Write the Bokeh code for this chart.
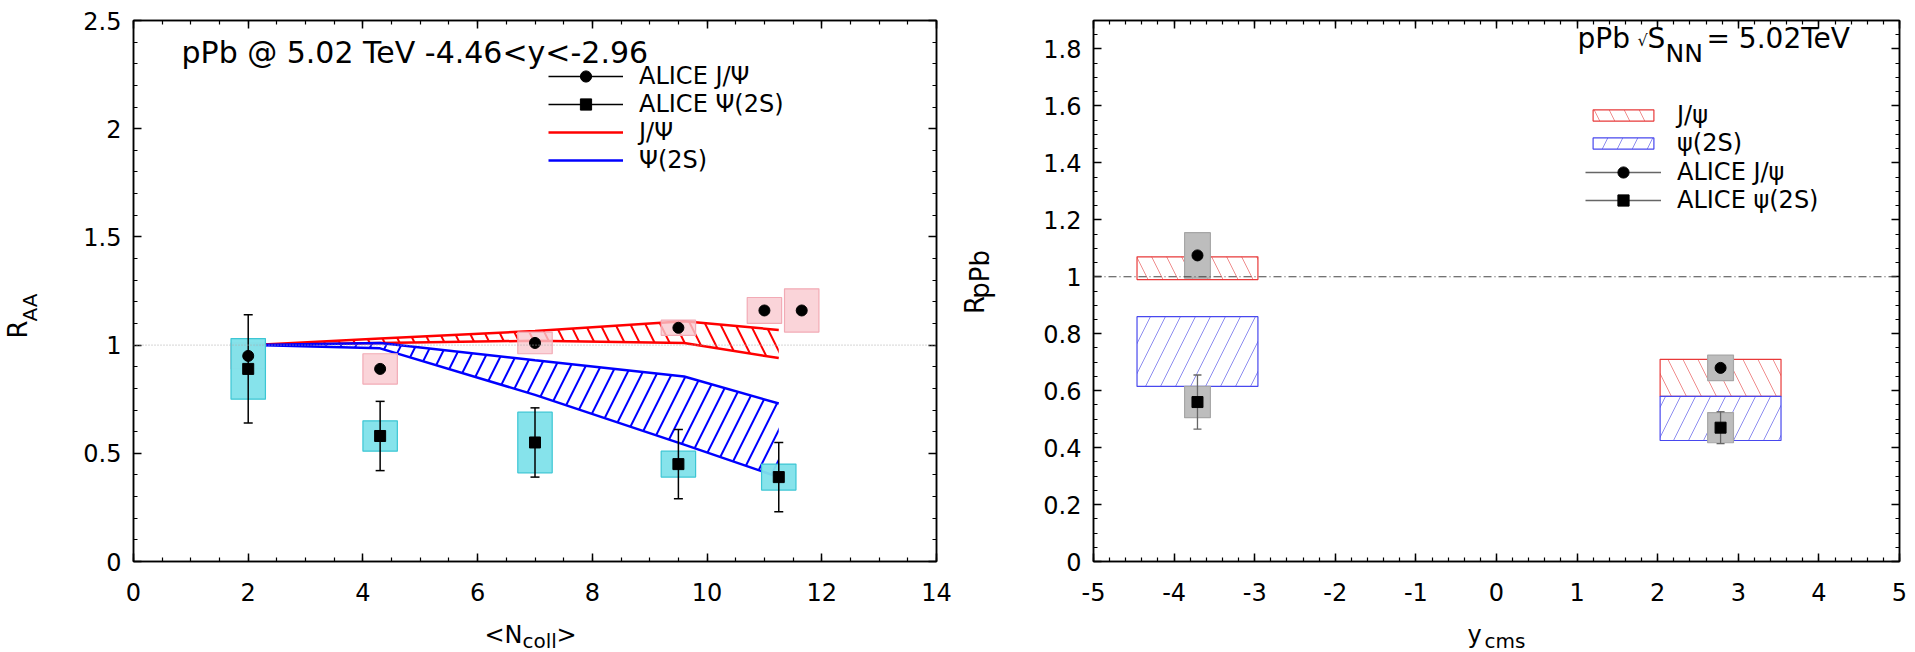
from math import pi
from bokeh.plotting import figure
from bokeh.layouts import row, column
from bokeh.core.properties import value
from bokeh.models import (Range1d, SingleIntervalTicker, LinearAxis, Label, Legend,
                          LegendItem, Span, CustomJSTickFormatter, CustomLabelingPolicy)
from bokeh.embed import file_html
from bokeh.resources import INLINE

FONT = "DejaVu Sans"
HMAIN = 620      # height of the two chart figures
HX = 32          # height of the strip holding the x-axis titles
YW = 40          # width of the strips holding the y-axis titles

# ---------------- left panel data ----------------
ncoll_jpsi = [2.0, 4.3, 7.0, 9.5, 11.0, 11.65]
raa_jpsi = [0.95, 0.89, 1.01, 1.08, 1.16, 1.16]
sys_jpsi = [0.06, 0.07, 0.05, 0.035, 0.06, 0.10]

ncoll_psi2s = [2.0, 4.3, 7.0, 9.5, 11.25]
raa_psi2s = [0.89, 0.58, 0.55, 0.45, 0.39]
stat_psi2s = [0.25, 0.16, 0.16, 0.16, 0.16]
sys_psi2s = [0.14, 0.07, 0.14, 0.06, 0.06]

ncoll_model = [2.1, 4.3, 7.0, 9.6, 11.25]
jpsi_model_hi = [1.0, 1.03, 1.065, 1.11, 1.07]
jpsi_model_lo = [1.0, 1.01, 1.02, 1.01, 0.94]
psi2s_model_hi = [1.0, 1.01, 0.93, 0.855, 0.73]
psi2s_model_lo = [1.0, 0.985, 0.77, 0.54, 0.39]

# ---------------- right panel data ----------------
ybin_lo = [-4.46, 2.03]
ybin_hi = [-2.96, 3.53]
jpsi_band_lo = [0.99, 0.58]
jpsi_band_hi = [1.07, 0.71]
psi2s_band_lo = [0.615, 0.425]
psi2s_band_hi = [0.86, 0.58]

y_alice = [-3.71, 2.78]
rppb_jpsi = [1.075, 0.68]
rppb_jpsi_sys = [0.08, 0.045]
rppb_psi2s = [0.56, 0.47]
rppb_psi2s_stat = [0.095, 0.056]
rppb_psi2s_sys = [0.055, 0.053]

FMT = CustomJSTickFormatter(code="return Number(tick.toFixed(2)).toString();")
NOLABELS = CustomLabelingPolicy(code="return new Set();")


def style_axis(ax, ticker, labels=True, standoff=12):
    ax.ticker = ticker
    ax.axis_line_color = "black"
    ax.axis_line_width = 1.5
    ax.major_tick_in = 8
    ax.major_tick_out = 0
    ax.minor_tick_in = 4
    ax.minor_tick_out = 0
    ax.major_tick_line_color = "black"
    ax.minor_tick_line_color = "black"
    ax.major_tick_line_width = 1.5
    ax.minor_tick_line_width = 1.2
    ax.formatter = FMT
    if labels:
        ax.major_label_text_font = FONT
        ax.major_label_text_font_size = "24px"
        ax.major_label_text_color = "black"
        ax.major_label_standoff = standoff
    else:
        ax.major_label_text_font_size = "1px"
        ax.major_label_standoff = 0
        ax.major_label_policy = NOLABELS


def make_fig(width, xr, yr, xt, yt, bl, br, bt, bb):
    p = figure(width=width, height=HMAIN, x_range=Range1d(*xr), y_range=Range1d(*yr),
               output_backend="svg", toolbar_location=None,
               min_border_left=bl, min_border_right=br, min_border_top=bt,
               min_border_bottom=bb)
    p.grid.visible = False
    p.outline_line_color = "black"
    p.outline_line_width = 1.5
    p.background_fill_color = "white"
    p.border_fill_color = "white"
    style_axis(p.xaxis[0], xt(), standoff=21)
    style_axis(p.yaxis[0], yt(), standoff=12)
    top = LinearAxis()
    style_axis(top, xt(), labels=False)
    right = LinearAxis()
    style_axis(right, yt(), labels=False)
    p.add_layout(top, "above")
    p.add_layout(right, "right")
    return p


def strip(width, height):
    """A bare figure whose ranges equal its pixel size; it only carries axis-title text."""
    s = figure(width=width, height=height, x_range=Range1d(0, width),
               y_range=Range1d(0, height), x_axis_type=None, y_axis_type=None,
               output_backend="svg", toolbar_location=None, min_border=0)
    s.grid.visible = False
    s.outline_line_color = None
    s.background_fill_color = "white"
    s.border_fill_color = "white"
    return s


def lab(p, text, x, y, size):
    """Label in frame-relative screen units; y is the text's vertical middle."""
    p.add_layout(Label(x=x, y=y, x_units="screen", y_units="screen", text=text,
                       text_font=FONT, text_font_size=size, text_color="black",
                       text_align="left", text_baseline="middle"))


def vtext(s, text, x_center, y_center_from_top, size):
    """Rotated (bottom-to-top) title piece, centred on the given strip pixel."""
    s.text(x=[x_center], y=[HMAIN - y_center_from_top], text=[text], angle=pi / 2,
           text_align="center", text_baseline="middle", text_font=value(FONT),
           text_font_size=value(size), text_color="black")


def legend(items, loc, gh, gw):
    return Legend(items=items, location=loc, orientation="vertical",
                  border_line_color=None, background_fill_alpha=0, padding=0, margin=0,
                  spacing=0, glyph_width=gw, glyph_height=gh, label_standoff=16,
                  label_height=gh, label_text_font=FONT, label_text_font_size="24px",
                  label_text_color="black")


# ======================= LEFT PANEL =======================
p1 = make_fig(960 - YW, (0, 14), (0, 2.5),
              lambda: SingleIntervalTicker(interval=2, num_minor_ticks=4),
              lambda: SingleIntervalTicker(interval=0.5, num_minor_ticks=5),
              133 - YW, 24, 20, HMAIN - 562)

p1.add_layout(Span(location=1.0, dimension="width", line_color="#aaaaaa",
                   line_dash="1 2", line_width=1))

p1.varea(x=ncoll_model, y1=jpsi_model_lo, y2=jpsi_model_hi, fill_color=None,
         hatch_pattern="\\", hatch_color="red", hatch_weight=2, hatch_scale=30)
p1.varea(x=ncoll_model, y1=psi2s_model_lo, y2=psi2s_model_hi, fill_color=None,
         hatch_pattern="/", hatch_color="blue", hatch_weight=2, hatch_scale=30)
jl_hi = p1.line(ncoll_model, jpsi_model_hi, line_color="red", line_width=2.5)
p1.line(ncoll_model, jpsi_model_lo, line_color="red", line_width=2.5)
pl_hi = p1.line(ncoll_model, psi2s_model_hi, line_color="blue", line_width=2.5)
p1.line(ncoll_model, psi2s_model_lo, line_color="blue", line_width=2.5)

hw = 0.3
p1.quad(left=[x - hw for x in ncoll_jpsi], right=[x + hw for x in ncoll_jpsi],
        bottom=[v - s for v, s in zip(raa_jpsi, sys_jpsi)],
        top=[v + s for v, s in zip(raa_jpsi, sys_jpsi)],
        fill_color="#f9c9d0", fill_alpha=0.8, line_color="#f2aab5", line_width=1.2)
p1.quad(left=[x - hw for x in ncoll_psi2s], right=[x + hw for x in ncoll_psi2s],
        bottom=[v - s for v, s in zip(raa_psi2s, sys_psi2s)],
        top=[v + s for v, s in zip(raa_psi2s, sys_psi2s)],
        fill_color="#7fe1ea", fill_alpha=0.95, line_color="#3cc6d4", line_width=1.2)

err1 = p1.segment(x0=ncoll_psi2s, y0=[v - e for v, e in zip(raa_psi2s, stat_psi2s)],
                  x1=ncoll_psi2s, y1=[v + e for v, e in zip(raa_psi2s, stat_psi2s)],
                  line_color="black", line_width=1.5)
p1.scatter(ncoll_psi2s + ncoll_psi2s,
           [v - e for v, e in zip(raa_psi2s, stat_psi2s)] +
           [v + e for v, e in zip(raa_psi2s, stat_psi2s)],
           marker="dash", size=9, line_color="black", line_width=1.5)

c1 = p1.scatter(ncoll_jpsi, raa_jpsi, marker="circle", size=11, fill_color="black",
                line_color="black")
s1 = p1.scatter(ncoll_psi2s, raa_psi2s, marker="square", size=11, fill_color="black",
                line_color="black")

p1.add_layout(legend([LegendItem(label="ALICE J/Ψ", renderers=[err1, c1]),
                      LegendItem(label="ALICE Ψ(2S)", renderers=[err1, s1]),
                      LegendItem(label="J/Ψ", renderers=[jl_hi]),
                      LegendItem(label="Ψ(2S)", renderers=[pl_hi])],
                     (415, 387), 28, 75))

lab(p1, "pPb @ 5.02 TeV -4.46<y<-2.96", 48, 509.5, "30px")

# ======================= RIGHT PANEL =======================
p2 = make_fig(955 - YW, (-5, 5), (0, 1.9),
              lambda: SingleIntervalTicker(interval=1, num_minor_ticks=5),
              lambda: SingleIntervalTicker(interval=0.2, num_minor_ticks=4),
              133 - YW, 16, 15, HMAIN - 561)

p2.add_layout(Span(location=1.0, dimension="width", line_color="#444444",
                   line_dash="8 3 1 3", line_width=1))

qj = p2.quad(left=ybin_lo, right=ybin_hi, bottom=jpsi_band_lo, top=jpsi_band_hi,
             fill_color=None, hatch_pattern="\\", hatch_color="#e23030", hatch_alpha=0.55,
             hatch_weight=1, hatch_scale=30, line_color="#e83a3a", line_width=1.2)
qp = p2.quad(left=ybin_lo, right=ybin_hi, bottom=psi2s_band_lo, top=psi2s_band_hi,
             fill_color=None, hatch_pattern="/", hatch_color="#3030e2", hatch_alpha=0.55,
             hatch_weight=1, hatch_scale=30, line_color="#4848ee", line_width=1.2)

gw = 0.16
p2.quad(left=[x - gw for x in y_alice], right=[x + gw for x in y_alice],
        bottom=[v - s for v, s in zip(rppb_jpsi, rppb_jpsi_sys)],
        top=[v + s for v, s in zip(rppb_jpsi, rppb_jpsi_sys)],
        fill_color="#bdbdbd", line_color="#a6a6a6", line_width=1.2)
p2.quad(left=[x - gw for x in y_alice], right=[x + gw for x in y_alice],
        bottom=[v - s for v, s in zip(rppb_psi2s, rppb_psi2s_sys)],
        top=[v + s for v, s in zip(rppb_psi2s, rppb_psi2s_sys)],
        fill_color="#bdbdbd", line_color="#a6a6a6", line_width=1.2)

err2 = p2.segment(x0=y_alice, y0=[v - e for v, e in zip(rppb_psi2s, rppb_psi2s_stat)],
                  x1=y_alice, y1=[v + e for v, e in zip(rppb_psi2s, rppb_psi2s_stat)],
                  line_color="#666666", line_width=1.3)
p2.scatter(y_alice + y_alice,
           [v - e for v, e in zip(rppb_psi2s, rppb_psi2s_stat)] +
           [v + e for v, e in zip(rppb_psi2s, rppb_psi2s_stat)],
           marker="dash", size=8, line_color="#666666", line_width=1.3)

c2 = p2.scatter(y_alice, rppb_jpsi, marker="circle", size=11, fill_color="black",
                line_color="black")
s2 = p2.scatter(y_alice, rppb_psi2s, marker="square", size=11, fill_color="black",
                line_color="black")

p2.add_layout(legend([LegendItem(label="J/ψ", renderers=[qj]),
                      LegendItem(label="ψ(2S)", renderers=[qp])],
                     (492, 404), 14, 76))
p2.add_layout(legend([LegendItem(label="ALICE J/ψ", renderers=[err2, c2]),
                      LegendItem(label="ALICE ψ(2S)", renderers=[err2, s2])],
                     (492, 347), 28, 76))

lab(p2, "pPb", 484, 523, "28px")
lab(p2, "√", 544, 521, "16px")
lab(p2, "S", 554, 523, "28px")
lab(p2, "NN", 572, 508.5, "25px")
lab(p2, "= 5.02TeV", 613, 523, "28px")

# ======================= AXIS TITLES =======================
ys1 = strip(YW, HMAIN)
vtext(ys1, "R", 17.7, 354, "26px")
vtext(ys1, "AA", 29, 329, "20px")

ys2 = strip(YW, HMAIN)
vtext(ys2, "R", 14.3, 326, "26px")
vtext(ys2, "pPb", 19.0, 291, "26px")

# x titles, in strips below each chart (strip spans page y 620..652)
xs1 = strip(960, HX)
lab(xs1, "<N", 484, 652 - 634.5, "24px")
lab(xs1, "coll", 522, 652 - 640, "20px")
lab(xs1, ">", 556, 652 - 634.5, "24px")

xs2 = strip(955, HX)
lab(xs2, "y", 507, 652 - 634.5, "24px")
lab(xs2, "cms", 524, 652 - 640, "20px")

layout = column(row(ys1, p1, ys2, p2), row(xs1, xs2))
open("out.html", "w").write(file_html(layout, INLINE))
